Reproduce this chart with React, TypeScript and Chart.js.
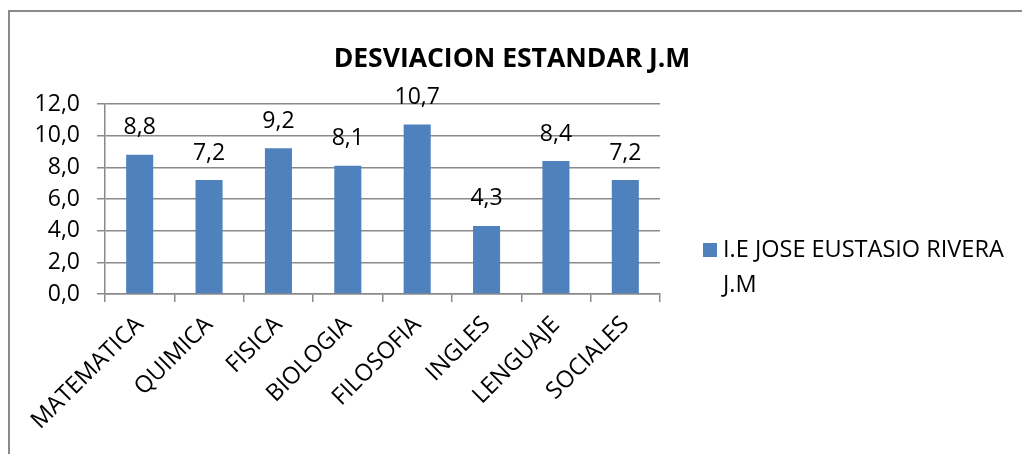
import React, { useEffect, useRef } from "react";
import { Chart, registerables } from "chart.js";

Chart.register(...registerables);

const FONT = "'Open Sans', sans-serif";

const titleText = "DESVIACION ESTANDAR J.M";
const categories = ["MATEMATICA", "QUIMICA", "FISICA", "BIOLOGIA", "FILOSOFIA", "INGLES", "LENGUAJE", "SOCIALES"];
const values = [8.8, 7.2, 9.2, 8.1, 10.7, 4.3, 8.4, 7.2];
const seriesName = "I.E JOSE EUSTASIO RIVERA J.M";
const legendLines = ["I.E JOSE EUSTASIO RIVERA", "J.M"];
const yMin = 0;
const yMax = 12;
const yStep = 2;

const BAR_COLOR = "#4F81BD";
const GRID_COLOR = "#8a8a8a";

const fmt = (v: number) => v.toFixed(1).replace(".", ",");

const W = 1022;
const H = 454;

const decorPlugin = {
  id: "decor",
  beforeDraw(chart: any) {
    const ctx = chart.ctx;
    ctx.save();
    ctx.fillStyle = "#ffffff";
    ctx.fillRect(0, 0, W, H);
    ctx.strokeStyle = GRID_COLOR;
    ctx.lineWidth = 2;
    ctx.beginPath();
    ctx.moveTo(9, H);
    ctx.lineTo(9, 11);
    ctx.lineTo(W, 11);
    ctx.stroke();
    ctx.restore();
  },
  afterDatasetsDraw(chart: any) {
    const ctx = chart.ctx;
    const meta = chart.getDatasetMeta(0);
    ctx.save();
    ctx.fillStyle = "#000";
    ctx.font = `23px ${FONT}`;
    ctx.textAlign = "center";
    ctx.textBaseline = "middle";
    meta.data.forEach((bar: any, i: number) => {
      ctx.fillText(fmt(values[i]), bar.x, bar.y - 27);
    });
    ctx.restore();
  },
  afterDraw(chart: any) {
    const ctx = chart.ctx;
    ctx.save();
    // title
    ctx.fillStyle = "#000";
    ctx.font = `bold 26.5px ${FONT}`;
    ctx.textAlign = "center";
    ctx.textBaseline = "middle";
    ctx.fillText(titleText, W / 2 + 1, 59);
    // legend
    ctx.fillStyle = BAR_COLOR;
    ctx.fillRect(703, 243, 14, 14);
    ctx.fillStyle = "#000";
    ctx.font = `23.5px ${FONT}`;
    ctx.textAlign = "left";
    legendLines.forEach((line, i) => {
      ctx.fillText(line, 723, 250 + i * 35);
    });
    ctx.restore();
  },
};

export default function App() {
  const ref = useRef<HTMLCanvasElement | null>(null);

  useEffect(() => {
    if (!ref.current) return;
    const chart = new Chart(ref.current, {
      type: "bar",
      data: {
        labels: categories,
        datasets: [
          {
            label: seriesName,
            data: values,
            backgroundColor: BAR_COLOR,
            borderWidth: 0,
            categoryPercentage: 1,
            barPercentage: 0.39,
          },
        ],
      },
      options: {
        responsive: false,
        animation: false,
        devicePixelRatio: 1,
        layout: { padding: { left: 9, top: 104, right: 362, bottom: 0 } },
        plugins: {
          legend: { display: false },
          title: { display: false },
          tooltip: { enabled: false },
        },
        scales: {
          x: {
            afterFit: (scale: any) => {
              scale.height = 160;
            },
            grid: {
              display: true,
              drawOnChartArea: false,
              drawTicks: true,
              tickLength: 8,
              color: GRID_COLOR,
              lineWidth: 1.5,
              offset: true,
            },
            border: { display: true, color: GRID_COLOR, width: 1.5 },
            ticks: {
              color: "#000",
              font: { family: FONT, size: 23.5 },
              minRotation: 45,
              maxRotation: 45,
              padding: 9,
              autoSkip: false,
            },
          },
          y: {
            min: yMin,
            max: yMax,
            afterFit: (scale: any) => {
              scale.width = 96;
            },
            grid: {
              color: GRID_COLOR,
              lineWidth: 1.5,
              drawTicks: true,
              tickLength: 8,
            },
            border: { display: true, color: GRID_COLOR, width: 1.5 },
            ticks: {
              stepSize: yStep,
              color: "#000",
              font: { family: FONT, size: 23 },
              padding: 17,
              callback: (v: any) => fmt(Number(v)),
            },
          },
        },
      },
      plugins: [decorPlugin],
    });
    return () => chart.destroy();
  }, []);

  return (
    <div style={{ position: "fixed", left: 0, top: 0, width: W, height: H, background: "#fff" }}>
      <canvas ref={ref} width={W} height={H} style={{ display: "block", width: W, height: H }} />
    </div>
  );
}
